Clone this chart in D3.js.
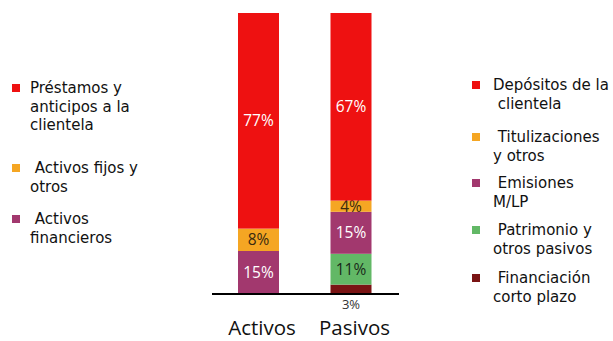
<!DOCTYPE html>
<html><head><meta charset="utf-8">
<script src="https://cdn.jsdelivr.net/npm/d3@7"></script>
<style>body{margin:0;background:#fff;}svg{display:block;}</style>
</head><body>
<svg id="c" width="613" height="341"></svg>
<script>
const categories = ["Activos", "Pasivos"];
const activosSeries = ["Préstamos y anticipos a la clientela", "Activos fijos y otros", "Activos financieros"];
const activosValues = [77, 8, 15];
const pasivosSeries = ["Depósitos de la clientela", "Titulizaciones y otros", "Emisiones M/LP", "Patrimonio y otros pasivos", "Financiación corto plazo"];
const pasivosValues = [67, 4, 15, 11, 3];
const activosColors = ["#ee1111", "#f5a623", "#a2386e"];
const pasivosColors = ["#ee1111", "#f5a623", "#a2386e", "#62b866", "#7a1414"];
const activosLabelColors = ["#fff", "#3a2a10", "#fff"];
const pasivosLabelColors = ["#fff", "#3a2a10", "#fff", "#1a2a1a", "#333"];
const leftLegendLines = [["Préstamos y", "anticipos a la", "clientela"], [" Activos fijos y", "otros"], [" Activos", "financieros"]];
const rightLegendLines = [["Depósitos de la", " clientela"], [" Titulizaciones", "y otros"], [" Emisiones", "M/LP"], [" Patrimonio y", "otros pasivos"], [" Financiación", "corto plazo"]];

const svg = d3.select("#c");
const x = d3.scalePoint().domain(categories).range([258.5, 351]);
const y = d3.scaleLinear().domain([0, 100]).range([293, 13]);
const bw = 41;

function stackBar(cat, values, colors, labelColors, below) {
  const rev = values.map((v, i) => ({v, i})).reverse();
  let acc = 0;
  rev.forEach(d => {
    const y0 = acc, y1 = acc + d.v; acc = y1;
    svg.append("rect").attr("x", x(cat) - bw/2).attr("width", bw)
      .attr("y", y(y1)).attr("height", y(y0) - y(y1)).attr("fill", colors[d.i]);
    const isBelow = below.includes(d.i);
    svg.append("text").attr("x", x(cat))
      .attr("y", isBelow ? y(0) + 11 : y((y0 + y1) / 2))
      .attr("dy", "0.36em").attr("text-anchor", "middle")
      .attr("font-family", "Open Sans, sans-serif").attr("font-size", isBelow ? 13 : 15.5)
      .attr("fill", isBelow ? "#333" : labelColors[d.i])
      .text(d.v + "%");
  });
}
stackBar("Activos", activosValues, activosColors, activosLabelColors, []);
stackBar("Pasivos", pasivosValues, pasivosColors, pasivosLabelColors, [4]);

svg.append("line").attr("x1", 212).attr("x2", 399).attr("y1", y(0) + 1).attr("y2", y(0) + 1)
  .attr("stroke", "#000").attr("stroke-width", 2);

const xAxis = svg.append("g").attr("transform", `translate(0,${y(0)})`)
  .call(d3.axisBottom(x).tickSize(0).tickPadding(33));
xAxis.select(".domain").remove();
xAxis.selectAll("text").attr("font-family", "Open Sans, sans-serif").attr("font-size", 20.5)
  .attr("fill", "#111").attr("dx", 3).attr("dy", "0.45em");

function legend(lines, colors, mx, tx, ys) {
  lines.forEach((ls, i) => {
    svg.append("rect").attr("x", mx).attr("y", ys[i] - 4).attr("width", 8).attr("height", 8).attr("fill", colors[i]);
    const t = svg.append("text")
      .attr("font-family", "DejaVu Sans, sans-serif").attr("font-size", 15).attr("fill", "#111")
      .attr("xml:space", "preserve").style("white-space", "pre");
    ls.forEach((s, j) => {
      t.append("tspan").attr("x", tx).attr("y", ys[i] + j * 18.5).attr("dy", "0.36em").text(s);
    });
  });
}
legend(leftLegendLines, activosColors, 12, 30, [88, 168, 219]);
legend(rightLegendLines, pasivosColors, 472, 493, [85, 137, 183, 230, 278]);
</script>
</body></html>
